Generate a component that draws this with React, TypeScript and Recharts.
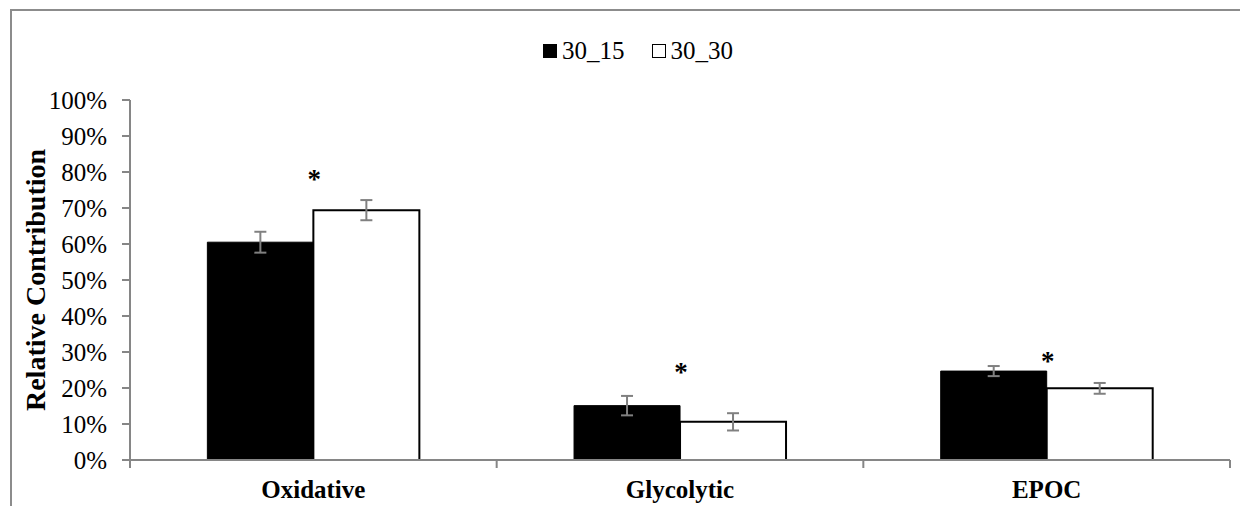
import {
  ComposedChart,
  Bar,
  Line,
  XAxis,
  YAxis,
  ErrorBar,
} from "recharts";

const FONT = '"Liberation Serif", "Times New Roman", serif';

const categories = ["Oxidative", "Glycolytic", "EPOC"];
const seriesNames = ["30_15", "30_30"];
const series15 = [0.605, 0.151, 0.247];
const series30 = [0.694, 0.106, 0.199];
const err15 = [0.029, 0.027, 0.014];
const err30 = [0.028, 0.024, 0.015];
// where the significance asterisk sits
const starAt = [0.786, 0.25, 0.28];
const yTicks = [0, 0.1, 0.2, 0.3, 0.4, 0.5, 0.6, 0.7, 0.8, 0.9, 1];

const data = categories.map((name, i) => ({
  name,
  s15: series15[i],
  s30: series30[i],
  e15: err15[i],
  e30: err30[i],
  star: starAt[i],
}));

const AXIS = "#868686";

function CategoryTick(props: any) {
  const { x, y, payload, index, width, visibleTicksCount } = props;
  const half = width / visibleTicksCount / 2;
  return (
    <g>
      <line x1={x - half} y1={y - 8} x2={x - half} y2={y} stroke={AXIS} strokeWidth={2} />
      {index === visibleTicksCount - 1 && (
        <line x1={x + half} y1={y - 8} x2={x + half} y2={y} stroke={AXIS} strokeWidth={2} />
      )}
      <text x={x} y={y + 30} textAnchor="middle" fontFamily={FONT} fontSize={25} fontWeight="bold" fill="#000">
        {payload.value}
      </text>
    </g>
  );
}

function Star(props: any) {
  const { cx, cy } = props;
  if (cx == null || cy == null) return null;
  return (
    <text x={cx + 1} y={cy + 11} textAnchor="middle" fontFamily={FONT} fontSize={27} fontWeight="bold" fill="#000">
      *
    </text>
  );
}

function LegendBox() {
  const item = (fill: string, label: string) => (
    <span key={label} style={{ display: "inline-flex", alignItems: "center", marginRight: 27 }}>
      <span
        style={{
          display: "inline-block",
          width: 12,
          height: 12,
          background: fill,
          border: "1.5px solid #000",
          marginRight: 5,
        }}
      />
      <span>{label}</span>
    </span>
  );
  return (
    <div
      style={{
        position: "absolute",
        left: 543,
        top: 36,
        fontFamily: FONT,
        fontSize: 25,
        color: "#000",
        whiteSpace: "nowrap",
        lineHeight: "28px",
      }}
    >
      {item("#000", seriesNames[0])}
      {item("#fff", seriesNames[1])}
    </div>
  );
}

export default function App() {
  return (
    <div
      style={{
        position: "relative",
        width: 1248,
        height: 506,
        marginLeft: -8,
        marginTop: -8,
        overflow: "hidden",
        background: "#fff",
      }}
    >
      <div
        style={{
          position: "absolute",
          left: 10,
          top: 9,
          width: 1260,
          height: 520,
          border: "2px solid #8c8c8c",
          boxSizing: "border-box",
        }}
      />
      <div style={{ position: "absolute", left: 0, top: 0 }}>
        <ComposedChart
          width={1248}
          height={506}
          data={data}
          margin={{ top: 100, right: 18, bottom: 0, left: 0 }}
          barCategoryGap="21.1%"
          barGap={0}
        >
          <XAxis
            dataKey="name"
            height={46}
            axisLine={{ stroke: AXIS, strokeWidth: 2 }}
            tickLine={false}
            tickSize={8}
            tickMargin={0}
            tick={<CategoryTick />}
            interval={0}
          />
          <YAxis
            width={130}
            domain={[0, 1]}
            ticks={yTicks}
            interval={0}
            tickFormatter={(v: number) => `${Math.round(v * 100)}%`}
            axisLine={{ stroke: AXIS, strokeWidth: 2 }}
            tickLine={{ stroke: AXIS, strokeWidth: 2 }}
            tickSize={8}
            tickMargin={15}
            tick={{ fontFamily: FONT, fontSize: 25, fill: "#000" }}
            label={{
              value: "Relative Contribution",
              angle: -90,
              position: "insideLeft",
              dx: 30,
              style: { fontFamily: FONT, fontSize: 28, fontWeight: "bold", fill: "#000", textAnchor: "middle" },
            }}
          />
          <Bar dataKey="s15" name={seriesNames[0]} fill="#000" stroke="#000" strokeWidth={1} isAnimationActive={false}>
            <ErrorBar dataKey="e15" width={6} stroke="#808080" strokeWidth={2} />
          </Bar>
          <Bar dataKey="s30" name={seriesNames[1]} fill="#fff" stroke="#000" strokeWidth={2} isAnimationActive={false}>
            <ErrorBar dataKey="e30" width={6} stroke="#808080" strokeWidth={2} />
          </Bar>
          <Line
            dataKey="star"
            stroke="none"
            dot={<Star />}
            activeDot={false}
            legendType="none"
            isAnimationActive={false}
          />
        </ComposedChart>
      </div>
      <LegendBox />
    </div>
  );
}
